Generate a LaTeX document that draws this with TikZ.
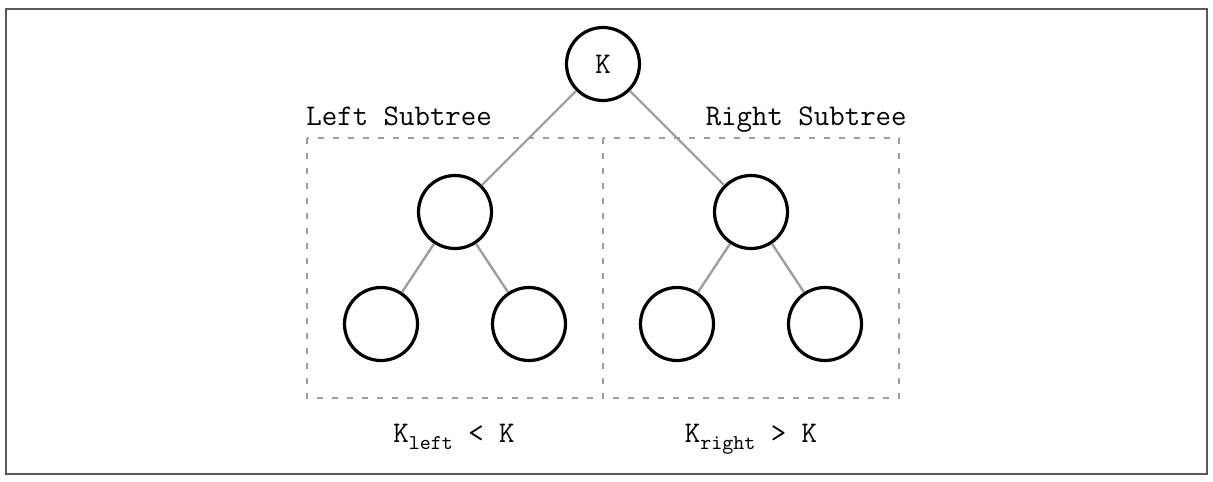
\documentclass[tikz,border=0pt]{standalone}
\usepackage{fontspec}
\newcommand{\subtt}[1]{\raisebox{-3.5pt}{\fontsize{10.5}{12}\selectfont #1}}
\begin{document}
\begin{tikzpicture}[x=0.5pt,y=-0.5pt,
  treenode/.style={circle,draw=black,line width=1.6pt,minimum size=36.5pt,inner sep=0pt,font=\ttfamily\fontsize{15}{18}\selectfont},
  treeedge/.style={draw=black!38,line width=1.2pt},
  subbox/.style={draw=black!38,line width=0.9pt,dash pattern=on 3pt off 4.5pt},
  lbl/.style={font=\ttfamily\fontsize{15}{18}\selectfont,inner sep=0pt}]
\useasboundingbox (0,0) rectangle (1213,481);
\draw[draw=black!65,line width=0.8pt] (6,9) rectangle (1207,474);
% subtree boxes
\draw[subbox] (307,138) rectangle (603,398);
\draw[subbox] (603,138) rectangle (899,398);
% nodes
\node[treenode] (root) at (603,64) {K};
\node[treenode] (l) at (455,212) {};
\node[treenode] (r) at (751,212) {};
\node[treenode] (ll) at (381,324) {};
\node[treenode] (lr) at (529,324) {};
\node[treenode] (rl) at (677,324) {};
\node[treenode] (rr) at (825,324) {};
% edges
\draw[treeedge] (root) -- (l);
\draw[treeedge] (root) -- (r);
\draw[treeedge] (l) -- (ll);
\draw[treeedge] (l) -- (lr);
\draw[treeedge] (r) -- (rl);
\draw[treeedge] (r) -- (rr);
% labels
\node[lbl,anchor=base west] (lt) at (306,126) {Left Subtree};
\node[lbl,anchor=base east] (rt) at (907,126) {Right Subtree};
\node[lbl,anchor=base] (lk) at (454,442) {K\subtt{left} < K};
\node[lbl,anchor=base] (rk) at (751,442) {K\subtt{right} > K};
\end{tikzpicture}
\end{document}
